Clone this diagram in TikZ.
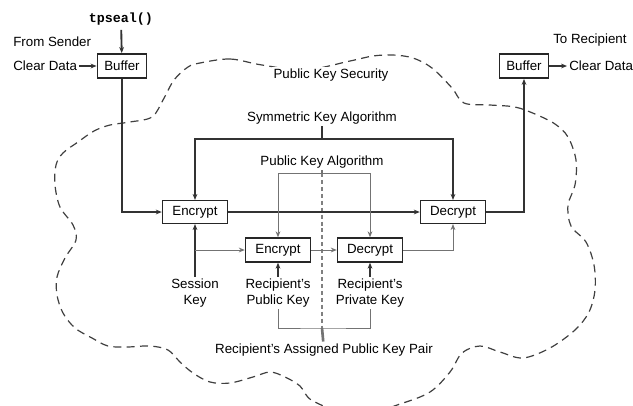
\documentclass[tikz,border=0pt]{standalone}
\usepackage{fontspec}
\setmainfont{Liberation Sans}
\setmonofont{Liberation Mono}
\usetikzlibrary{arrows.meta}

\begin{document}
\begin{tikzpicture}[x=0.75pt,y=-0.75pt,
  font=\fontsize{10}{11.5}\selectfont,
  >={Stealth[length=4.5pt,width=3.6pt]},
  box/.style={draw=black!85,line width=1.1pt,fill=white,minimum width=48.75pt,minimum height=17pt,inner sep=0pt},
  bufbox/.style={box,minimum width=36.75pt,minimum height=18pt,line width=1.4pt},
  lbl/.style={inner sep=1.5pt,align=center},
  main/.style={draw=black!80,line width=1.4pt},
  sym/.style={draw=black!80,line width=0.9pt},
  pub/.style={draw=black!55,line width=0.7pt}]
  \useasboundingbox (0,0) rectangle (633,405);
  % the cloud
  \draw [black!75,line width=0.9pt,dash pattern=on 6pt off 4pt]
    plot [smooth cycle,tension=0.55] coordinates {
      (200,63) (230,59) (262,65) (305,70) (350,61) (373,56) (393,55) (413,58)
      (432,68) (452,88) (464,103) (490,105) (515,107) (535,114) (555,124)
      (568,137) (576,160) (575,185) (568,205) (571,226) (586,242) (594,265)
      (595,290) (589,312) (575,330) (550,348) (523,358) (500,352) (480,346)
      (462,353) (450,372) (430,392) (400,404) (357,416) (313,401) (300,386)
      (285,377) (270,372) (253,377) (230,383) (210,382) (193,373) (180,362)
      (168,350) (150,346) (127,347) (108,346) (92,338) (75,328) (63,313)
      (57,295) (57,277) (65,258) (76,240) (73,225) (60,207) (55,185) (56,165)
      (63,153) (78,142) (94,131) (110,125) (130,122) (152,117) (163,100)
      (174,80) (188,67)};
  \node [lbl,fill=white] (cloud) at (331,75) {Public Key Security};

  \node (tpseal) at (121,19) {\ttfamily\bfseries tpseal()};
  \node [lbl,anchor=west] (from) at (11,42) {From Sender};
  \node [lbl,anchor=west] (clrin) at (11,66) {Clear Data};
  \node [bufbox] (buf1) at (122,66) {Buffer};
  \node [lbl,anchor=west] (to) at (551,40) {To Recipient};
  \node [bufbox] (buf2) at (524,66) {Buffer};
  \node [lbl,anchor=west] (clrout) at (567,66) {Clear Data};

  \node [lbl] (symalg) at (322,118) {Symmetric Key Algorithm};
  \node [lbl] (pubalg) at (322,162) {Public Key Algorithm};
  \coordinate (symbar) at (322,139);
  \coordinate (pubbar) at (322,173);

  \node [box] (enc1) at (195,212) {Encrypt};
  \node [box] (dec1) at (453,212) {Decrypt};
  \node [box,minimum height=18pt] (enc2) at (278,250) {Encrypt};
  \node [box,minimum height=18pt] (dec2) at (370,250) {Decrypt};

  \node [lbl] (sess) at (195,293) {Session\\Key};
  \node [lbl] (pubkey) at (278,293) {Recipient's\\Public Key};
  \node [lbl] (privkey) at (370,293) {Recipient's\\Private Key};
  \node [lbl] (pair) at (324,350) {Recipient's Assigned Public Key Pair};
  \coordinate (sessbr) at (195,250);
  \coordinate (pairbar) at (322,328);

  \draw [black!50,line width=1.5pt,dash pattern=on 3pt off 2.2pt] (pubbar) -- (pairbar);

  \draw [main,->] (tpseal) -- (buf1);
  \draw [main,->] (clrin) -- (buf1);
  \draw [main,->] (buf1.south) |- (enc1.west);
  \draw [main,->] (enc1) -- (dec1);
  \draw [main,->] (dec1.east) -| (buf2.south);
  \draw [main,->] (buf2) -- (clrout);

  \draw [main,line width=2pt] (symalg) -- (symbar);
  \draw [sym,->] (symbar) -| (enc1.north);
  \draw [sym,->] (symbar) -| (dec1.north);

  \draw [pub,line width=2pt] (pubalg) -- (pubbar);
  \draw [pub,->] (pubbar) -| (enc2.north);
  \draw [pub,->] (pubbar) -| (dec2.north);
  \draw [pub,->] (enc2) -- (dec2);
  \draw [pub,->] (dec2.east) -| (dec1.south);

  \draw [main,->] (sess) -- (enc1);
  \draw [pub,->] (sessbr) -- (enc2.west);
  \draw [main,->] (pubkey) -- (enc2);
  \draw [main,->] (privkey) -- (dec2);
  \draw [pub] (pubkey.south) |- (pairbar) -| (privkey.south);
  \draw [pub,line width=2pt] (pairbar) -- (pair);
\end{tikzpicture}
\end{document}
